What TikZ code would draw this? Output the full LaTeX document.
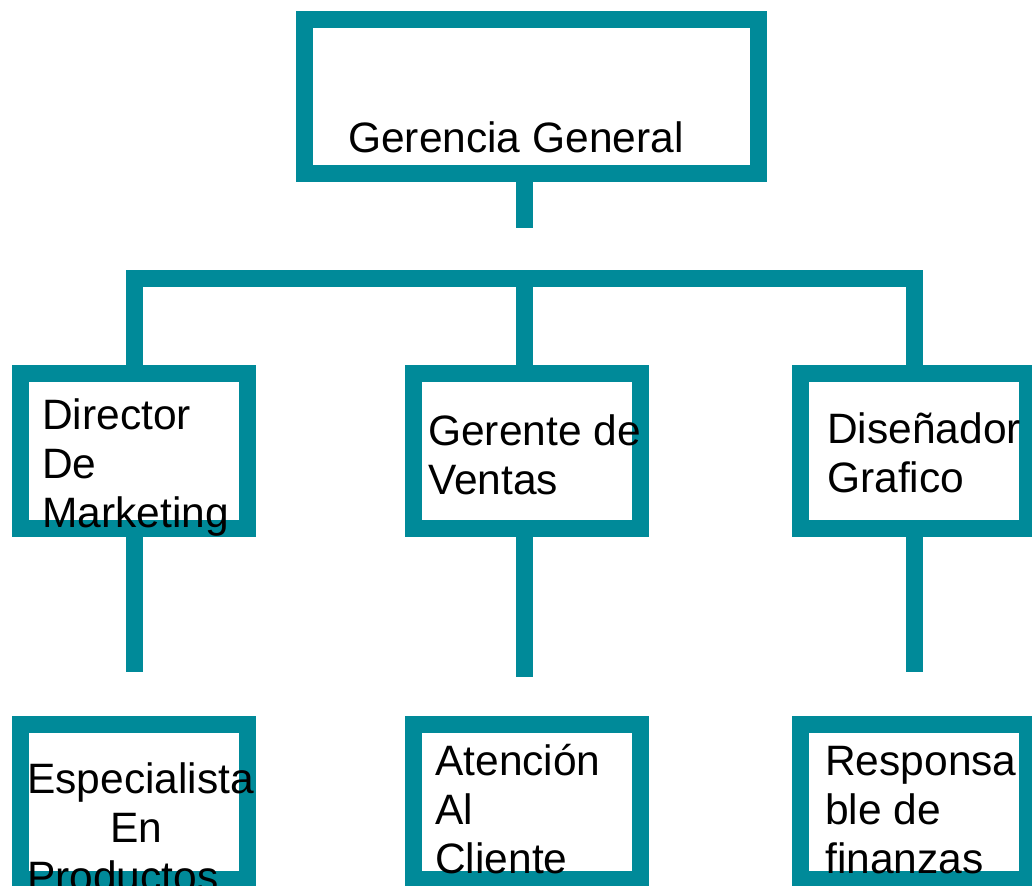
\documentclass[tikz,border=0pt]{standalone}
\usepackage{fontspec}
\setmainfont{Liberation Sans}
\definecolor{orgteal}{RGB}{0,138,153}
\begin{document}
\begin{tikzpicture}[x=1pt,y=1pt,
  box/.style={draw=orgteal, line width=17pt, minimum width=227pt, minimum height=155pt, inner sep=0pt},
  link/.style={draw=orgteal, line width=17pt},
  lbl/.style={font=\fontsize{42.5}{49}\selectfont, anchor=base west, inner sep=0pt, align=left, text=black}]
\useasboundingbox (0,0) rectangle (1032,-885);
\clip (0,0) rectangle (1032,-885);
% boxes
\node[box, minimum width=454pt, minimum height=154pt] (gg) at (531.5,-97) {};
\node[box] (dm) at (134,-450.5) {};
\node[box] (gv) at (527,-450.5) {};
\node[box] (dg) at (914,-450.5) {};
\node[box] (ep) at (134,-802) {};
\node[box] (ac) at (527,-802) {};
\node[box] (rf) at (914,-802) {};
% connectors
\coordinate (ggstem) at (524,-228);
\draw[link] (gg.south -| ggstem) -- (ggstem);
\coordinate (bar) at (0,-278.5);
\draw[link] (dm.north) -- (dm.north |- bar) -- (dg.north |- bar) -- (dg.north);
\coordinate (gvtop) at (524,-278.5);
\draw[link] (gv.north -| gvtop) -- (gvtop);
\coordinate (dmend) at (134,-672);
\draw[link] (dm.south) -- (dmend);
\coordinate (gvend) at (524,-677);
\draw[link] (gv.south -| gvend) -- (gvend);
\coordinate (dgend) at (914,-672);
\draw[link] (dg.south) -- (dgend);
% labels (anchor = baseline of last line)
\node[lbl] (tgg) at (348,-153) {Gerencia General};
\node[lbl] (tdm) at (42,-527) {Director\\De\\Marketing};
\node[lbl] (tgv) at (428,-494) {Gerente de\\Ventas};
\node[lbl] (tdg) at (827,-492) {Diseñador\\Grafico};
\node[lbl] (tep) at (27,-891) {Especialista\\\hspace*{83pt}En\\Productos};
\node[lbl] (tac) at (435,-873) {Atención\\Al\\Cliente};
\node[lbl] (trf) at (825,-873) {Responsa\\ble de\\finanzas};
\end{tikzpicture}
\end{document}
